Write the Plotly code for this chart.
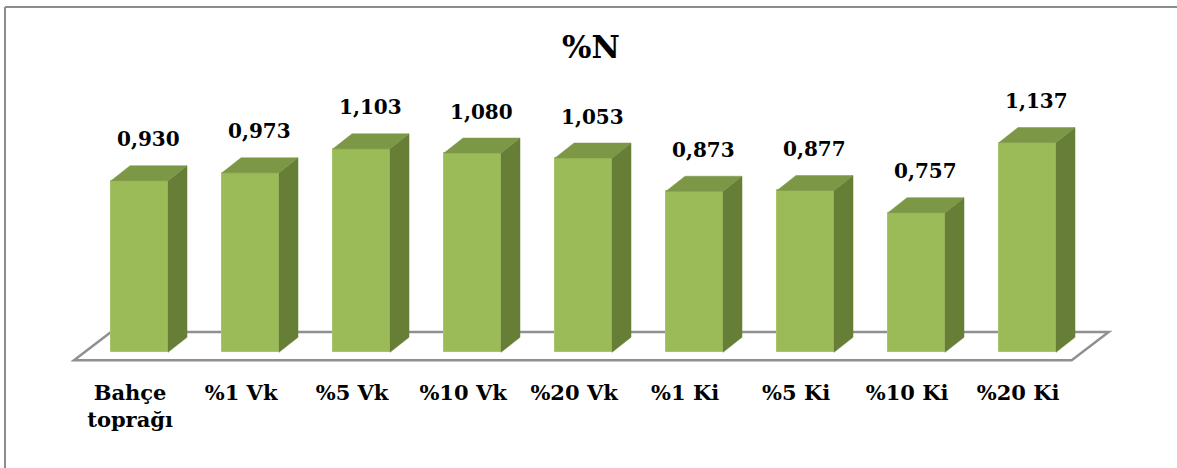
import plotly.graph_objects as go

categories = ["Bahçe<br>toprağı", "%1 Vk", "%5 Vk", "%10 Vk", "%20 Vk", "%1 Ki", "%5 Ki", "%10 Ki", "%20 Ki"]
values = [0.930, 0.973, 1.103, 1.080, 1.053, 0.873, 0.877, 0.757, 1.137]
value_labels = ["0,930", "0,973", "1,103", "1,080", "1,053", "0,873", "0,877", "0,757", "1,137"]

FW, FH = 1177, 468
L, R, T, B = 50, 50, 90, 90
PW, PH = FW - L - R, FH - T - B
XPX = 111.0      # pixels per category
YPX = 184.5      # pixels per value unit
x0 = -(139.5 - L) / XPX
y0 = -(FH - B - 352.3) / YPX

BW = 57 / XPX          # front face width
DX = 19 / XPX          # depth offset x
DY = 15 / YPX          # depth offset y

FRONT = "#9BBB59"
SIDE = "#677E37"
TOP = "#7C9746"
FONT = "DejaVu Serif"

xs = list(range(len(values)))

# side and top faces built from the values
sx, sy, tx, ty = [], [], [], []
for i, v in zip(xs, values):
    r = i + BW / 2
    l = i - BW / 2
    sx += [r, r + DX, r + DX, r, r, None]
    sy += [0, DY, v + DY, v, 0, None]
    tx += [l, l + DX, r + DX, r, l, None]
    ty += [v, v + DY, v + DY, v, v, None]

n = len(values)
fl_front, fl_back = -8 / YPX, 20.3 / YPX
fl_l, fl_r = -65.5 / XPX, (n - 1) + 44.2 / XPX
fl_dx = 37 / XPX
floor_path = "M %f %f L %f %f L %f %f L %f %f Z" % (
    fl_l, fl_front, fl_r, fl_front, fl_r + fl_dx, fl_back, fl_l + fl_dx, fl_back)

fig = go.Figure()
fig.add_shape(type="path", xref="x", yref="y", path=floor_path, layer="below",
              fillcolor="white", line=dict(color="#909090", width=2.5))
fig.add_trace(go.Scatter(x=sx, y=sy, mode="lines", fill="toself", fillcolor=SIDE,
                         line=dict(color=SIDE, width=0.5), hoverinfo="skip", showlegend=False))
fig.add_trace(go.Scatter(x=tx, y=ty, mode="lines", fill="toself", fillcolor=TOP,
                         line=dict(color=TOP, width=0.5), hoverinfo="skip", showlegend=False))
fig.add_trace(go.Bar(x=xs, y=values, width=BW, marker=dict(color=FRONT, line=dict(color="#A7C46B", width=1)),
                     showlegend=False))

for i, v, t in zip(xs, values, value_labels):
    fig.add_annotation(x=i + 0.08, y=v + DY, text="<b>%s</b>" % t, showarrow=False,
                       yanchor="middle", yshift=26.5,
                       font=dict(family=FONT, size=20, color="black"))

# chart border
def px_x(p):
    return (p - L) / PW

def px_y(p):
    return (FH - B - p) / PH

fig.add_shape(type="line", xref="paper", yref="paper", x0=px_x(5), x1=px_x(1185), y0=px_y(7), y1=px_y(7),
              line=dict(color="#8C8C8C", width=2))
fig.add_shape(type="line", xref="paper", yref="paper", x0=px_x(5), x1=px_x(5), y0=px_y(7), y1=px_y(475),
              line=dict(color="#8C8C8C", width=2))

fig.update_layout(
    width=FW, height=FH,
    margin=dict(l=L, r=R, t=T, b=B),
    paper_bgcolor="white", plot_bgcolor="white",
    font=dict(family=FONT),
    title=dict(text="<b>%N</b>", x=591 / FW, xanchor="center", y=1 - 47 / FH, yanchor="middle",
               font=dict(family=FONT, size=31, color="black")),
    xaxis=dict(range=[x0, x0 + PW / XPX], tickvals=[i - 0.085 for i in xs], ticktext=["<b>%s</b>" % c for c in categories],
               showgrid=False, zeroline=False, showline=False, ticks="",
               tickfont=dict(family=FONT, size=21, color="black")),
    yaxis=dict(range=[y0, y0 + PH / YPX], showgrid=False, zeroline=False, showline=False,
               showticklabels=False, ticks=""),
    bargap=0,
)

fig.write_html("out.html")
